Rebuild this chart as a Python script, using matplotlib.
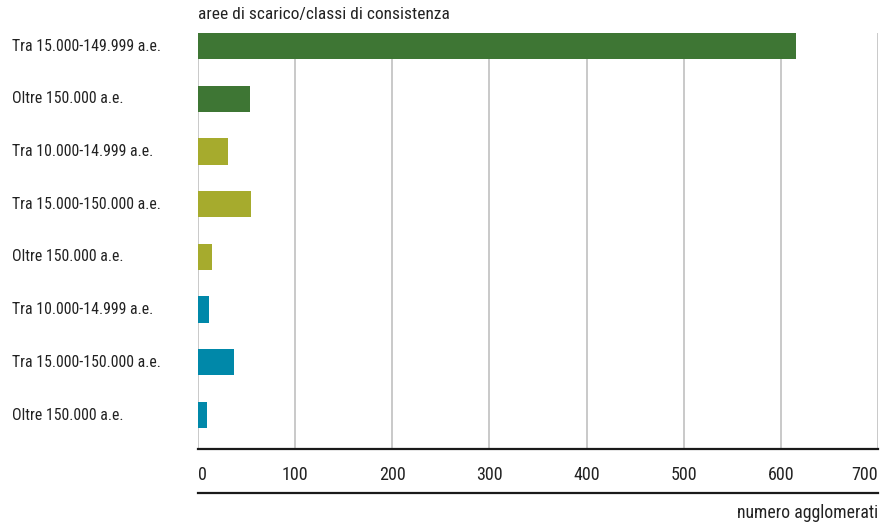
import matplotlib
matplotlib.use("Agg")
import matplotlib.pyplot as plt
from matplotlib.lines import Line2D

plt.rcParams['font.family'] = ['Roboto Condensed', 'Liberation Sans Narrow', 'Roboto', 'DejaVu Sans']

categories = [
    "Tra 15.000-149.999 a.e.",
    "Oltre 150.000 a.e.",
    "Tra 10.000-14.999 a.e.",
    "Tra 15.000-150.000 a.e.",
    "Oltre 150.000 a.e.",
    "Tra 10.000-14.999 a.e.",
    "Tra 15.000-150.000 a.e.",
    "Oltre 150.000 a.e.",
]
values = [616, 54, 31, 55, 14, 11, 37, 9]
group_colors = ["#3e7634", "#3e7634", "#a6ab2d", "#a6ab2d", "#a6ab2d", "#0088a9", "#0088a9", "#0088a9"]
xticks = [0, 100, 200, 300, 400, 500, 600, 700]
title = "aree di scarico/classi di consistenza"
xlabel = "numero agglomerati"

fig = plt.figure(figsize=(8.95, 5.26), dpi=100)
ax = fig.add_axes([198/895, 1-449/526, 680/895, 416/526])

ypos = list(range(len(categories)))
ax.barh(ypos, values, height=0.5, color=group_colors, zorder=3)
ax.set_xlim(0, 700)
ax.set_ylim(7.645, -0.25)

for t in xticks:
    ax.axvline(t, color="#c9c9c9", lw=1.4, zorder=1)

for s in ["top", "right", "left"]:
    ax.spines[s].set_visible(False)
ax.spines["bottom"].set_color("#1a1a1a")
ax.spines["bottom"].set_linewidth(1.6)

ax.set_yticks([])
for y, c in zip(ypos, categories):
    ax.text(-186/680*700, y, c, ha="left", va="center", fontsize=11.4, color="#222222")

ax.set_xticks(xticks)
ax.set_xticklabels([str(t) for t in xticks], fontsize=13, color="#222222")
ax.tick_params(axis="x", length=0, pad=12)
labels = ax.get_xticklabels()
labels[0].set_horizontalalignment("left")
labels[-1].set_horizontalalignment("right")

# second line under tick labels
ax.add_line(Line2D([0, 1], [-44/416, -44/416], transform=ax.transAxes, color="#1a1a1a", lw=1.6, clip_on=False))

ax.text(1, -64/416, xlabel, transform=ax.transAxes, ha="right", va="center", fontsize=12.8, color="#222222")
fig.text(198/895, 1-14/526, title, ha="left", va="center", fontsize=12.5, color="#222222")

fig.savefig("out.png", dpi=100)
